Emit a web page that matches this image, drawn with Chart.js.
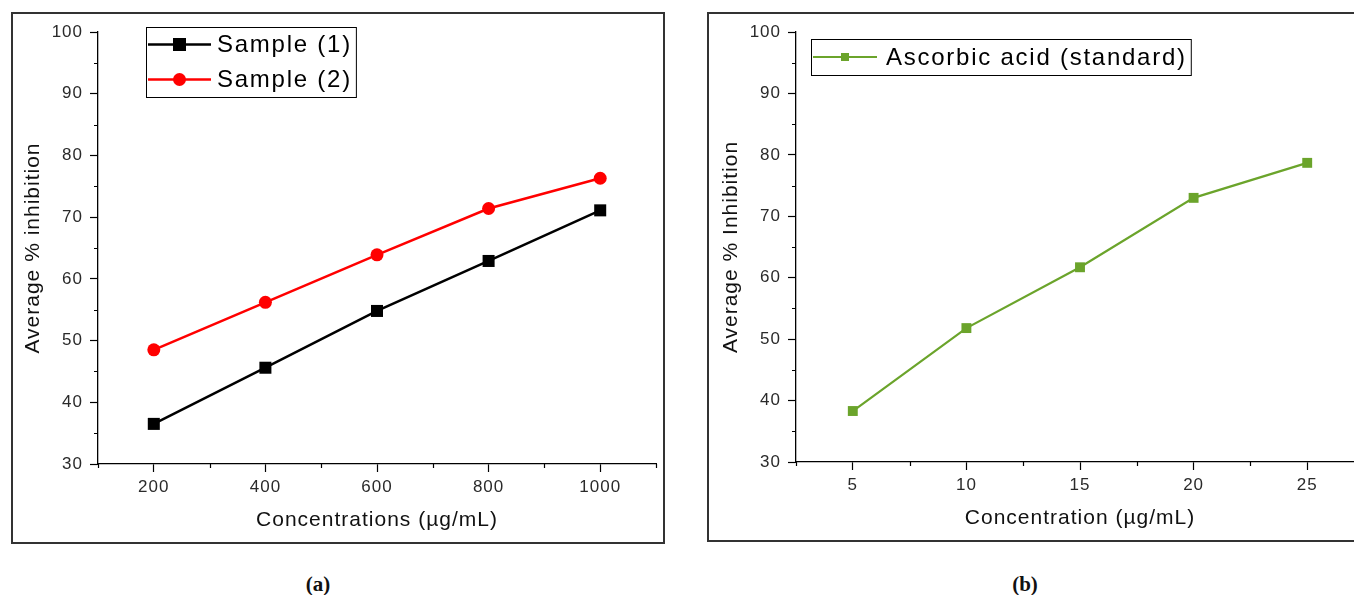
<!DOCTYPE html>
<html>
<head>
<meta charset="utf-8">
<script src="https://cdn.jsdelivr.net/npm/chart.js@4.4.1/dist/chart.umd.min.js"></script>
<style>
  html, body { margin: 0; padding: 0; background: #fff; }
  body { width: 1354px; height: 595px; overflow: hidden; position: relative; }
  .panel { position: absolute; border: 2px solid #333; box-sizing: border-box; }
  #panelA { left: 11px; top: 12px; width: 654px; height: 532px; }
  #panelB { left: 707px; top: 12px; width: 720px; height: 530px; }
  canvas { position: absolute; top: 0; }
  #chartA { left: 0; }
  #chartB { left: 680px; }
  .cap { position: absolute; top: 572px; width: 80px; margin-left: -40px; text-align: center;
         font: bold 21px/24px "Liberation Serif", "Times New Roman", serif; color: #111; }
</style>
</head>
<body>
<div class="panel" id="panelA"></div>
<div class="panel" id="panelB"></div>
<canvas id="chartA" width="677" height="560"></canvas>
<canvas id="chartB" width="720" height="560"></canvas>
<div class="cap" style="left:318px">(a)</div>
<div class="cap" style="left:1025px">(b)</div>
<script>
// panel (a) data
const concA = [200, 400, 600, 800, 1000];
const sample1 = [36.5, 45.6, 54.8, 62.9, 71.1];
const sample2 = [48.5, 56.2, 63.9, 71.4, 76.3];
const minorXA = [100, 300, 500, 700, 900, 1100];

// panel (b) data
const concB = [5, 10, 15, 20, 25];
const ascorbic = [38.3, 51.8, 61.7, 73.0, 78.7];
const minorXB = [2.5, 7.5, 12.5, 17.5, 22.5, 27.5];

const minorY = [35, 45, 55, 65, 75, 85, 95];

const FONT = '"Liberation Sans", Arial, sans-serif';

function points(xs, ys) {
    return xs.map((x, i) => ({ x: x, y: ys[i] }));
}

// letter spacing to mimic the slightly stretched text of the original
const spacing = {
    id: 'spacing',
    beforeUpdate(chart) { chart.ctx.letterSpacing = '1px'; },
    beforeDraw(chart) { chart.ctx.letterSpacing = '1px'; }
};

// short minor ticks
const minorTicks = {
    id: 'minorTicks',
    afterDraw(chart, args, o) {
        const ctx = chart.ctx, xs = chart.scales.x, ys = chart.scales.y;
        ctx.save();
        ctx.strokeStyle = '#000';
        ctx.lineWidth = 1.2;
        ctx.beginPath();
        o.x.forEach(v => {
            const px = Math.round(xs.getPixelForValue(v)) + 0.5;
            ctx.moveTo(px, xs.top);
            ctx.lineTo(px, xs.top + 4);
        });
        o.y.forEach(v => {
            const py = Math.round(ys.getPixelForValue(v)) + 0.5;
            ctx.moveTo(ys.right - 4, py);
            ctx.lineTo(ys.right, py);
        });
        ctx.stroke();
        ctx.restore();
    }
};

// boxed legend with line + marker, like the original plot
const boxLegend = {
    id: 'boxLegend',
    afterDraw(chart, args, o) {
        const { ctx, chartArea } = chart;
        const x0 = Math.round(chartArea.left + o.dx), y0 = Math.round(chartArea.top + o.dy);
        const sets = chart.data.datasets;
        ctx.save();
        ctx.font = '24px ' + FONT;
        ctx.letterSpacing = '1.75px';
        const tw = Math.max(...sets.map(d => ctx.measureText(d.label).width));
        const w = o.textX + tw + 4, h = sets.length * o.rowH;
        ctx.strokeStyle = '#000';
        ctx.lineWidth = 1;
        ctx.strokeRect(x0 + 0.5, y0 + 0.5, w, h);
        sets.forEach((d, i) => {
            const y = y0 + o.rowH * (i + 0.5);
            ctx.strokeStyle = d.borderColor;
            ctx.lineWidth = d.borderWidth;
            ctx.beginPath();
            ctx.moveTo(x0 + 2, y);
            ctx.lineTo(x0 + o.lineW, y);
            ctx.stroke();
            ctx.fillStyle = d.pointBackgroundColor;
            const mx = x0 + 2 + (o.lineW - 2) / 2, r = o.marker;
            if (d.pointStyle === 'circle') {
                ctx.beginPath();
                ctx.arc(mx, y, r, 0, Math.PI * 2);
                ctx.fill();
            } else {
                ctx.fillRect(mx - r, y - r, 2 * r, 2 * r);
            }
            ctx.fillStyle = '#000';
            ctx.textBaseline = 'middle';
            ctx.fillText(d.label, x0 + o.textX, y + 1);
        });
        ctx.restore();
    }
};

function makeOptions(cfg) {
    return {
        responsive: false,
        animation: false,
        layout: { padding: cfg.padding },
        plugins: {
            legend: { display: false },
            tooltip: { enabled: false },
            minorTicks: { x: cfg.minorX, y: minorY },
            boxLegend: cfg.legend
        },
        scales: {
            x: {
                type: 'linear',
                min: cfg.xMin,
                max: cfg.xMax,
                afterFit: s => { s.height = 80; },
                border: { display: true, color: '#000', width: 1.3 },
                grid: {
                    drawOnChartArea: false,
                    tickLength: 8,
                    tickWidth: 1.2,
                    tickColor: c => (c.tick && cfg.isMajorX(c.tick.value)) ? '#000' : 'rgba(0,0,0,0)'
                },
                ticks: {
                    stepSize: cfg.xStep,
                    autoSkip: false,
                    maxRotation: 0,
                    padding: 5,
                    color: '#2a2a2a',
                    font: { family: FONT, size: 17 },
                    callback: v => cfg.isMajorX(v) ? v : ''
                },
                title: {
                    display: true,
                    text: cfg.xTitle,
                    color: '#111',
                    font: { family: FONT, size: 21 },
                    padding: { top: 0, bottom: 11 }
                }
            },
            y: {
                min: 30,
                max: 100,
                afterFit: s => { s.width = 80; },
                border: { display: true, color: '#000', width: 1.3 },
                grid: {
                    drawOnChartArea: false,
                    tickLength: 8,
                    tickWidth: 1.2,
                    tickColor: c => (c.tick && c.tick.value % 10 === 0) ? '#000' : 'rgba(0,0,0,0)'
                },
                ticks: {
                    stepSize: 5,
                    autoSkip: false,
                    padding: 7,
                    color: '#2a2a2a',
                    font: { family: FONT, size: 17 },
                    callback: v => v % 10 === 0 ? v : ''
                },
                title: {
                    display: true,
                    text: cfg.yTitle,
                    color: '#111',
                    font: { family: FONT, size: 21 },
                    padding: { top: 3, bottom: 0 }
                }
            }
        }
    };
}

new Chart(document.getElementById('chartA').getContext('2d'), {
    type: 'line',
    data: {
        datasets: [{
            label: 'Sample (1)',
            data: points(concA, sample1),
            borderColor: '#000',
            backgroundColor: '#000',
            pointBackgroundColor: '#000',
            pointBorderColor: '#000',
            borderWidth: 2.5,
            pointStyle: 'rect',
            pointRadius: 8.5,
            pointBorderWidth: 0
        }, {
            label: 'Sample (2)',
            data: points(concA, sample2),
            borderColor: '#ff0000',
            backgroundColor: '#ff0000',
            pointBackgroundColor: '#ff0000',
            pointBorderColor: '#ff0000',
            borderWidth: 2.5,
            pointStyle: 'circle',
            pointRadius: 6.5,
            pointBorderWidth: 0
        }]
    },
    options: makeOptions({
        padding: { left: 18, right: 21, top: 32, bottom: 16 },
        xMin: 100, xMax: 1100, xStep: 100,
        isMajorX: v => v % 200 === 0,
        minorX: minorXA,
        xTitle: 'Concentrations (µg/mL)',
        yTitle: 'Average % inhibition',
        legend: { dx: 48, dy: -5, rowH: 35, lineW: 65, textX: 71, marker: 6.5 }
    }),
    plugins: [spacing, minorTicks, boxLegend]
});

new Chart(document.getElementById('chartB').getContext('2d'), {
    type: 'line',
    data: {
        datasets: [{
            label: 'Ascorbic acid (standard)',
            data: points(concB, ascorbic),
            borderColor: '#6ba42b',
            backgroundColor: '#6ba42b',
            pointBackgroundColor: '#6ba42b',
            pointBorderColor: '#6ba42b',
            borderWidth: 2.2,
            pointStyle: 'rect',
            pointRadius: 7,
            pointBorderWidth: 0
        }]
    },
    options: makeOptions({
        padding: { left: 36, right: 36, top: 32, bottom: 18 },
        xMin: 2.5, xMax: 27.5, xStep: 2.5,
        isMajorX: v => v % 5 === 0,
        minorX: minorXB,
        xTitle: 'Concentration (µg/mL)',
        yTitle: 'Average % Inhibition',
        legend: { dx: 15, dy: 7, rowH: 36, lineW: 66, textX: 75, marker: 4 }
    }),
    plugins: [spacing, minorTicks, boxLegend]
});
</script>
</body>
</html>
